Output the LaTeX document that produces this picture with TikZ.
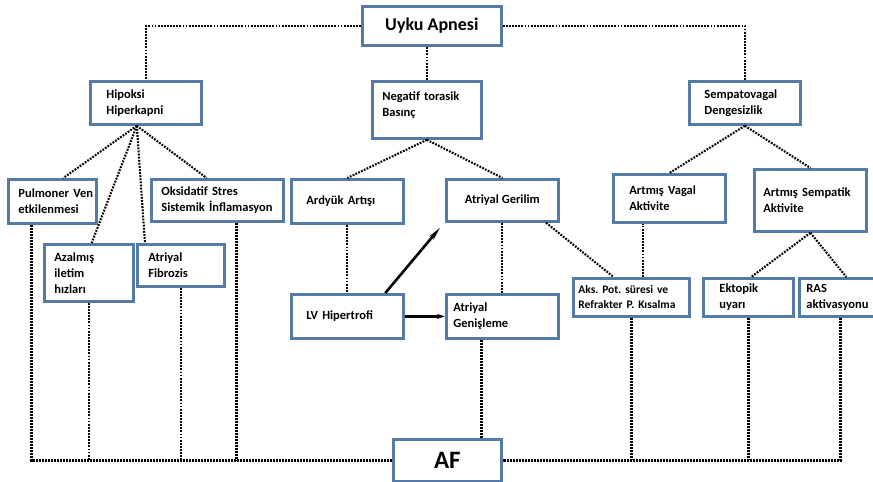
\documentclass[tikz,border=0pt]{standalone}
\usepackage{fontspec}
\setmainfont{Carlito}
\usetikzlibrary{calc,arrows.meta}
\definecolor{kenar}{RGB}{84,122,168}

\begin{document}
\begin{tikzpicture}[x=1pt,y=-1pt,
    kutu/.style={draw=kenar, line width=2.8pt, fill=white, anchor=north west,
      inner ysep=0pt, align=left, font=\bfseries\fontsize{12.5}{16}\selectfont},
    nokta/.style={line width=2.1pt, dash pattern=on 1.8pt off 1.3pt},
    kalinnokta/.style={line width=2.7pt, dash pattern=on 1.9pt off 1.1pt},
    ok/.style={line width=2.6pt}]
    \useasboundingbox (0,0) rectangle (873,482);
    % kutular
    \node[kutu, align=center, minimum width=139pt, minimum height=39pt,
      font=\bfseries\fontsize{18}{20}\selectfont](uyku)at(361,5){Uyku Apnesi};
    \node[kutu, minimum width=111pt, minimum height=43pt, text width=79pt, inner xsep=16pt](hipoksi)at(89,80){Hipoksi\\Hiperkapni};
    \node[kutu, minimum width=109pt, text height=19pt, text depth=38pt, text width=89pt, inner xsep=10pt](negatif)at(371,80){Negatif~torasik\\Basınç};
    \node[kutu, minimum width=111pt, minimum height=43pt, text width=81pt, inner xsep=15pt](sempato)at(688,80){Sempatovagal\\Dengesizlik};
    \node[kutu, minimum width=88pt, minimum height=44pt, text width=68pt, inner xsep=10pt](pulmoner)at(7,178){Pulmoner~Ven\\etkilenmesi};
    \node[kutu, minimum width=132pt, minimum height=42pt, text width=112pt, inner xsep=10pt](oksidatif)at(150,178){Oksidatif~Stres\\Sistemik~İnflamasyon};
    \node[kutu, minimum width=89pt, minimum height=57pt, text width=69pt, inner xsep=10pt](azalmis)at(43,243){Azalmış\\iletim\\hızları};
    \node[kutu, minimum width=87pt, minimum height=42pt, text width=65pt, inner xsep=11pt](fibrozis)at(136,243){Atriyal\\Fibrozis};
    \node[kutu, minimum width=112pt, minimum height=44pt, text width=82pt, inner xsep=15pt](ardyuk)at(290,178){Ardyük~Artışı};
    \node[kutu, align=center, minimum width=112pt, minimum height=42pt](gerilim)at(445,178){Atriyal Gerilim};
    \node[kutu, minimum width=112pt, minimum height=44pt, text width=82pt, inner xsep=15pt](lv)at(290,293){LV~Hipertrofi};
    \node[kutu, minimum width=112pt, minimum height=44pt, text width=98pt, inner xsep=7pt](genisleme)at(445,293){Atriyal\\Genişleme};
    \node[kutu, minimum width=112pt, minimum height=48pt, text width=80pt, inner xsep=16pt](vagal)at(612,173){Artmış~Vagal\\Aktivite};
    \node[kutu, minimum width=112pt, minimum height=62pt, text width=94pt, inner xsep=9pt](sempatik)at(753,168){Artmış~Sempatik\\Aktivite};
    \node[kutu, minimum width=116pt, minimum height=38pt, text width=106pt, inner xsep=5pt,
      font=\bfseries\fontsize{11.5}{15}\selectfont](aks)at(572,277){Aks.~Pot.~süresi~ve\\Refrakter~P.~Kısalma};
    \node[kutu, minimum width=90pt, minimum height=38pt, text width=58pt, inner xsep=16pt](ektopik)at(702,277){Ektopik\\uyarı};
    \node[kutu, minimum width=82pt, minimum height=38pt, text width=68pt, inner xsep=7pt](ras)at(798,277){RAS\\aktivasyonu};
    \node[kutu, align=center, minimum width=108pt, minimum height=42pt,
      font=\bfseries\fontsize{25}{28}\selectfont](af)at(392,438){AF};
    % Uyku Apnesi
    \draw[nokta](uyku.west)-|(hipoksi.north);
    \draw[nokta](uyku.east)-|(sempato.north);
    \draw[nokta](negatif.north)--(negatif.north |- uyku.south);
    % Hipoksi dallari
    \coordinate(hA)at($(hipoksi.south west)!0.42!(hipoksi.south east)$);
    \draw[nokta](hA)--($(pulmoner.north west)!0.62!(pulmoner.north east)$);
    \draw[nokta](hA)--($(azalmis.north west)!0.53!(azalmis.north east)$);
    \draw[nokta](hA)--($(fibrozis.north west)!0.1!(fibrozis.north east)$);
    \draw[nokta](hA)--($(oksidatif.north west)!0.42!(oksidatif.north east)$);
    % Negatif torasik basinc
    \draw[nokta](negatif.south)--(ardyuk.north);
    \draw[nokta](negatif.south)--(gerilim.north);
    \draw[nokta](ardyuk.south)--(lv.north);
    \draw[nokta](gerilim.south)--(genisleme.north);
    \draw[nokta]($(gerilim.south west)!0.88!(gerilim.south east)$)--($(aks.north west)!0.35!(aks.north east)$);
    % Sempatovagal
    \draw[nokta](sempato.south)--(vagal.north);
    \draw[nokta](sempato.south)--(sempatik.north);
    \coordinate(vA)at($(aks.north west)!0.6!(aks.north east)$);
    \draw[nokta](vA)--(vA |- vagal.south);
    \draw[nokta](sempatik.south)--($(ektopik.north west)!0.53!(ektopik.north east)$);
    \draw[nokta](sempatik.south)--($(ras.north west)!0.57!(ras.north east)$);
    % oklar
    \draw[ok, -{Stealth[length=8pt, width=5pt]}](lv.east)--(genisleme.west);
    \coordinate(ucA)at($(gerilim.south west)+(-5,5)$);
    \draw[ok, -{Stealth[length=13pt, width=5pt]}]($(lv.north west)!0.83!(lv.north east)$)--(ucA);
    % AF
    \draw[kalinnokta]($(pulmoner.south west)!0.27!(pulmoner.south east)$)|-(af.west);
    \draw[kalinnokta](ras.south)|-(af.east);
    \coordinate(oA)at($(oksidatif.south west)!0.64!(oksidatif.south east)$);
    \draw[kalinnokta](oA)--(oA |- af.west);
    \foreach \k in {azalmis, fibrozis}
        \draw[nokta](\k.south)--(\k.south |- af.west);
    \foreach \k in {aks, ektopik}
        \draw[kalinnokta](\k.south)--(\k.south |- af.west);
    \coordinate(gA)at($(genisleme.south west)!0.32!(genisleme.south east)$);
    \draw[kalinnokta](gA)--(gA |- af.north);
\end{tikzpicture}
\end{document}
